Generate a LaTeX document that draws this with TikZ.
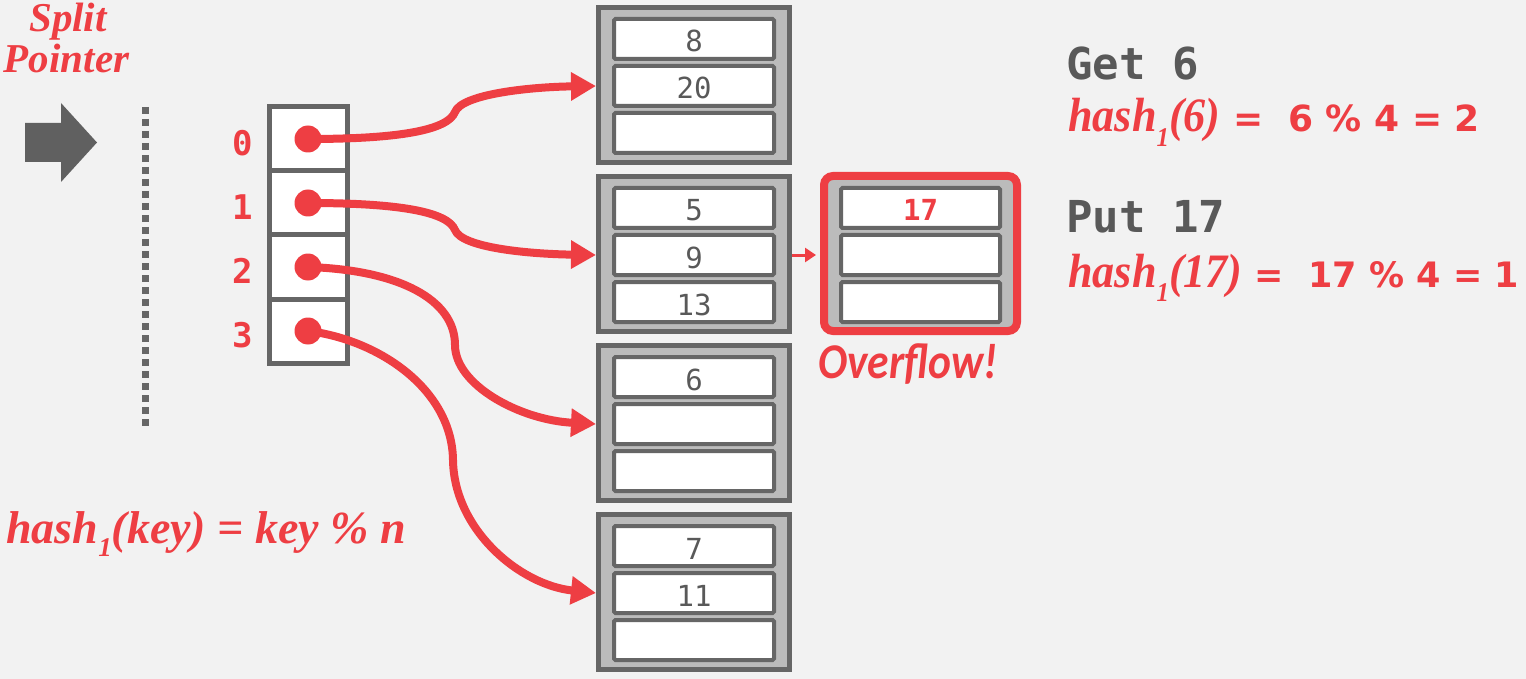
\documentclass[tikz,border=0pt]{standalone}
\usepackage{fontspec}
\setmainfont{Liberation Serif}
\newfontfamily\monof{DejaVu Sans Mono}
\newfontfamily\calib{Carlito}
\newfontfamily\dsans{DejaVu Sans}
\usetikzlibrary{arrows.meta}
\definecolor{bgc}{HTML}{F2F2F2}
\definecolor{dgray}{HTML}{666666}
\definecolor{bgray}{HTML}{BBBBBB}
\definecolor{tgray}{HTML}{595959}
\definecolor{ared}{HTML}{EE3E43}
\definecolor{agray}{HTML}{606060}
\newcommand\lowone{\raisebox{-0.3em}{\fontsize{27}{27}\selectfont 1}}
\begin{document}
\begin{tikzpicture}[x=1pt,y=-1pt,
  cell/.style={draw=dgray,line width=5pt,fill=white,minimum width=78pt,minimum height=64pt,inner sep=0pt},
  dotn/.style={circle,fill=ared,minimum size=27pt,inner sep=0pt},
  lab/.style={text=ared,font=\monof\bfseries\fontsize{34}{34}\selectfont,inner sep=0pt},
  bucket/.style={draw=dgray,line width=5pt,fill=bgray,minimum width=191pt,minimum height=155pt,inner sep=0pt},
  slot/.style={draw=dgray,line width=4pt,fill=white,minimum width=160pt,minimum height=40pt,inner sep=0pt,rounded corners=1.5pt,text=tgray,text height=26pt,text depth=0pt,font=\monof\fontsize{29}{29}\selectfont},
  oslot/.style={slot,minimum width=159pt},
  ptr/.style={draw=ared,line width=8pt,-{Triangle[length=25pt,width=27pt]}},
  redtxt/.style={text=ared,inner sep=0pt},
  cmd/.style={anchor=base west,inner sep=0pt,text=tgray,font=\monof\bfseries\fontsize{44}{44}\selectfont}]
\fill[bgc] (0,0) rectangle (1526,679);
\useasboundingbox (0,0) rectangle (1526,679);

% split pointer
\node[redtxt,anchor=base,font=\bfseries\itshape\fontsize{41}{41}\selectfont] (sp1) at (68,32) {Split};
\node[redtxt,anchor=base,font=\bfseries\itshape\fontsize{41}{41}\selectfont] (sp2) at (66.5,73) {Pointer};
\fill[agray] (25,123) -- (61,123) -- (61,103) -- (97,142.5) -- (61,182) -- (61,162) -- (25,162) -- cycle;
\coordinate (dtop) at (145,107);
\coordinate (dbot) at (145,426);
\draw[dgray,line width=7pt,dash pattern=on 7pt off 5pt] (dtop) -- (dbot);

% directory
\foreach \i in {0,1,2,3} {
  \node[cell] (c\i) at (308,139+64*\i) {};
}
\node[lab] (l0) at (243,143) {0};
\node[lab] (l1) at (243,207) {1};
\node[lab] (l2) at (243,271) {2};
\node[lab] (l3) at (243,335) {3};

% buckets
\foreach \k/\T in {1/5,2/174,3/343,4/512} {
  \node[bucket] (b\k) at (694,\T+80) {};
}
\node[slot] (b1s1) at (694,39) {8};
\node[slot] (b1s2) at (694,86) {20};
\node[slot] (b1s3) at (694,133) {};
\node[slot] (b2s1) at (694,208) {5};
\node[slot] (b2s2) at (694,255) {9};
\node[slot] (b2s3) at (694,302) {13};
\node[slot] (b3s1) at (694,377) {6};
\node[slot] (b3s2) at (694,424) {};
\node[slot] (b3s3) at (694,471) {};
\node[slot] (b4s1) at (694,546) {7};
\node[slot] (b4s2) at (694,593) {11};
\node[slot] (b4s3) at (694,640) {};

% overflow bucket
\node[draw=ared,line width=8pt,fill=bgray,rounded corners=9pt,minimum width=193pt,minimum height=155pt,inner sep=0pt] (ov) at (920.5,253.5) {};
\node[oslot,text=ared,font=\monof\bfseries\fontsize{29}{29}\selectfont] (ovs1) at (920.5,208) {17};
\node[oslot] (ovs2) at (920.5,255) {};
\node[oslot] (ovs3) at (920.5,302) {};
\draw[ared,line width=3pt,-{Triangle[length=11pt,width=14pt]},shorten >=4pt] (b2.east |- b2s2.center) -- (ov.west |- b2s2.center);
\node[redtxt,anchor=base,font=\calib\bfseries\itshape\fontsize{50}{50}\selectfont] (ovt) at (908,378) {\scalebox{0.87}[1]{Overflow!}};

% pointers
\draw[ptr] (c0.center) .. controls (400,139) and (448,130) .. (455,112) .. controls (462,94) and (530,87) .. (b1.west |- b1s2.center);
\draw[ptr] (c1.center) .. controls (400,203) and (448,212) .. (455,230) .. controls (462,248) and (530,254) .. (b2.west |- b2s2.center);
\draw[ptr] (c2.center) .. controls (400,270) and (455,300) .. (455,345) .. controls (455,385) and (520,420) .. (b3.west |- b3s2.center);
\draw[ptr] (c3.center) .. controls (380,340) and (452,390) .. (453,460) .. controls (454,530) and (520,585) .. (b4.west |- b4s2.center);
\foreach \i in {0,1,2,3} {
  \node[dotn] (p\i) at (c\i.center) {};
}

% right side
\node[cmd] (get) at (1066,80) {Get 6};
\node[redtxt,anchor=base west] (h1) at (1068,132) {\scalebox{0.92}[1]{\bfseries\itshape\fontsize{48}{48}\selectfont hash\lowone(6)}{\dsans\bfseries\fontsize{36}{36}\selectfont\ =\ \ 6 \% 4 = 2}};
\node[cmd] (put) at (1066,233) {Put 17};
\node[redtxt,anchor=base west] (h2) at (1068,287) {\scalebox{0.92}[1]{\bfseries\itshape\fontsize{48}{48}\selectfont hash\lowone(17)}{\dsans\bfseries\fontsize{35}{35}\selectfont\ =\ \ 17 \% 4 = 1}};

% formula
\node[redtxt,anchor=base west,font=\bfseries\itshape\fontsize{46}{46}\selectfont] (hk) at (6,543) {hash\lowone(key) = key \% n};
\end{tikzpicture}
\end{document}
